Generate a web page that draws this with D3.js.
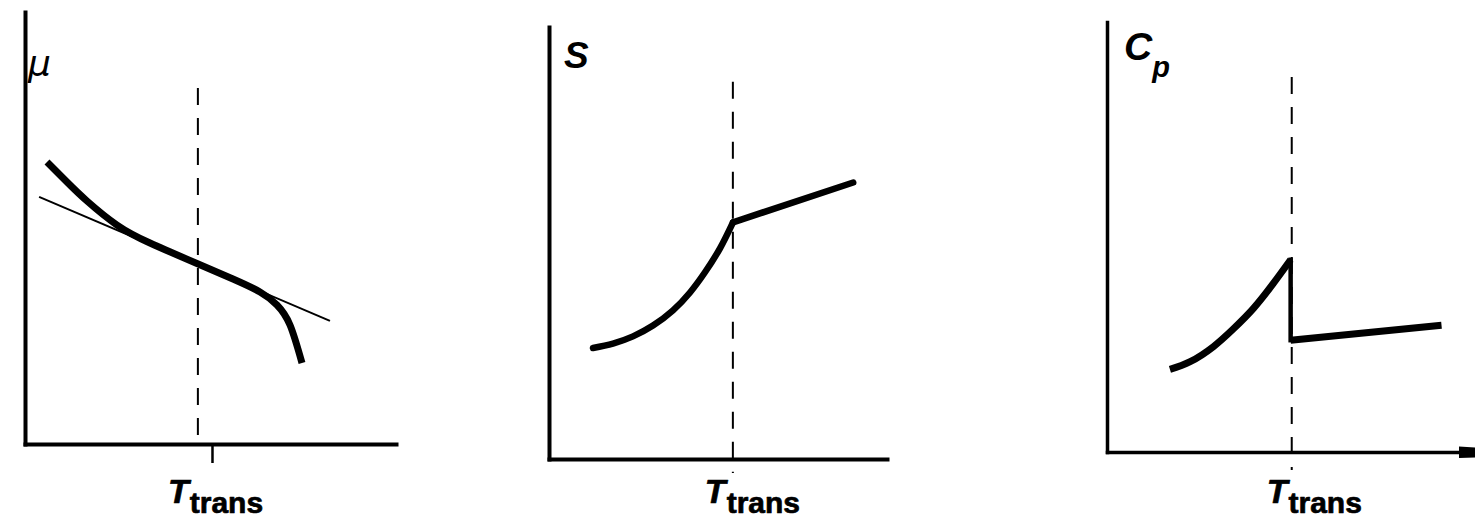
<!DOCTYPE html>
<html>
<head>
<meta charset="utf-8">
<script src="https://cdn.jsdelivr.net/npm/d3@7"></script>
<style>
  html, body { margin: 0; padding: 0; background: #fff; }
  svg { display: block; }
  text { font-family: "Liberation Sans", Arial, Helvetica, sans-serif; fill: #000; }
</style>
</head>
<body>
<svg id="chart" width="1475" height="522"></svg>
<script>
// ---- Data (arbitrary units, 0–100 on both axes of every panel) ----

// Chemical potential μ(T): thick curve and thin tangent drawn at the transition
const muCurve = [[5.93, 65.28], [11.32, 60.65], [16.71, 56.25], [24.80, 50.69], [33.69, 46.53],
                 [46.36, 41.78], [56.06, 38.19], [63.34, 35.19], [67.92, 32.18], [71.43, 27.55], [74.66, 18.75]];
const muTangent = [[3.8, 57.2], [82.2, 28.5]];
const muTrans = 46.6;      // dashed marker
const muTick = 50.4;       // axis tick carrying the label
const muDashTop = 82.4;

// Entropy S(T): smooth rise, kink at the transition, then a straight branch
const sBelow = [[13.02, 25.69], [18.93, 26.71], [24.85, 28.38], [30.77, 30.88], [36.69, 34.40],
                [41.72, 38.54], [46.15, 43.22], [50.59, 48.77], [54.44, 54.79]];
const sAbove = [[54.44, 54.79], [90.0, 64.0]];
const sTrans = 54.4;
const sDashTop = 87.3;

// Heat capacity Cp(T): rising branch, discontinuous drop, flat branch
const cpBelow = [[17.1, 19.2], [22.6, 21.0], [28.9, 24.5], [34.3, 28.6], [39.8, 33.4],
                 [45.2, 39.2], [49.9, 44.7]];
const cpJump = [[49.9, 44.7], [49.9, 26.0]];
const cpAbove = [[49.9, 26.0], [90.9, 29.5]];
const cpTrans = 50.2;
const cpDashTop = 87.2;

const transLabel = { main: "T", sub: "trans" };

// ---- Layout ----
const svg = d3.select("#chart");

const panels = [
  { left: 25,   right: 396,  bottom: 444, top: 12, axisW: 4,   tick: muTick, tickLen: 19,
    trans: muTrans, dashTop: muDashTop, dashBelow: 0, labelDx: -44, arrow: false,
    yLabel: { x: 28, y: 76, font: "DejaVu Sans", parts: [["μ", 36, "italic", "normal", 0]] } },
  { left: 549,  right: 887,  bottom: 459, top: 27, axisW: 4,   tick: null, tickLen: 0,
    trans: sTrans, dashTop: sDashTop, dashBelow: 14, labelDx: -28, arrow: false,
    yLabel: { x: 564, y: 68, font: null, parts: [["S", 37, "italic", "bold", 0]] } },
  { left: 1107, right: 1475, bottom: 452, top: 22, axisW: 3.5, tick: null, tickLen: 0,
    trans: cpTrans, dashTop: cpDashTop, dashBelow: 18, labelDx: -25, arrow: true,
    yLabel: { x: 1124, y: 60, font: null, parts: [["C", 39, "italic", "bold", 0], ["p", 29, "italic", "bold", 17]] } }
];

panels.forEach(p => {
  p.x = d3.scaleLinear().domain([0, 100]).range([p.left, p.right]);
  p.y = d3.scaleLinear().domain([0, 100]).range([p.bottom, p.top]);
  p.g = svg.append("g");
});

const lineSmooth = p => d3.line().x(d => p.x(d[0])).y(d => p.y(d[1])).curve(d3.curveNatural);
const lineStraight = p => d3.line().x(d => p.x(d[0])).y(d => p.y(d[1]));

// ---- Axes, dashed transition marker and labels ----
panels.forEach(p => {
  const xAxis = d3.axisBottom(p.x)
    .tickValues(p.tick === null ? [] : [p.tick])
    .tickSize(p.tickLen)
    .tickSizeOuter(0)
    .tickFormat(() => "");
  const yAxis = d3.axisLeft(p.y).tickValues([]).tickSizeOuter(0);

  const gx = p.g.append("g").attr("transform", `translate(0,${p.bottom})`).call(xAxis);
  const gy = p.g.append("g").attr("transform", `translate(${p.left},0)`).call(yAxis);
  [gx, gy].forEach(g => {
    g.select(".domain").attr("stroke", "#000").attr("stroke-width", p.axisW).attr("stroke-linecap", "square");
    g.selectAll(".tick line").attr("stroke", "#000").attr("stroke-width", 2.5);
  });

  if (p.arrow) {
    const xe = p.x.range()[1];
    p.g.append("path")
      .attr("d", `M${xe - 16},${p.bottom - 5.5}L${xe},${p.bottom - 4.5}L${xe},${p.bottom + 5.5}L${xe - 16},${p.bottom + 6}Z`)
      .attr("fill", "#000");
  }

  // dashed vertical line at the transition temperature
  p.g.append("line")
    .attr("x1", p.x(p.trans)).attr("x2", p.x(p.trans))
    .attr("y1", p.y(p.dashTop)).attr("y2", p.y(0) + p.dashBelow)
    .attr("stroke", "#000").attr("stroke-width", 2)
    .attr("stroke-dasharray", "17,13");

  // T_trans label under the axis
  const lx = p.x(p.tick === null ? p.trans : p.tick) + p.labelDx;
  const t = p.g.append("text").attr("x", lx).attr("y", 503)
    .attr("stroke", "#000").attr("stroke-width", 0.7).attr("stroke-linejoin", "round");
  t.append("tspan").attr("font-size", 34).attr("font-style", "italic").attr("font-weight", "bold").text(transLabel.main);
  t.append("tspan").attr("font-size", 30).attr("font-weight", "bold").attr("dy", 10).attr("dx", 1).text(transLabel.sub);

  // quantity label at the top of the y axis
  const yl = p.g.append("text").attr("x", p.yLabel.x).attr("y", p.yLabel.y);
  if (p.yLabel.font) yl.style("font-family", `"${p.yLabel.font}", sans-serif`);
  p.yLabel.parts.forEach(([s, size, style, weight, dy]) => {
    yl.append("tspan").attr("font-size", size).attr("font-style", style)
      .attr("font-weight", weight).attr("dy", dy).text(s);
  });
});

// ---- Curves ----
const [pMu, pS, pCp] = panels;

pMu.g.append("path").datum(muTangent).attr("d", lineStraight(pMu))
  .attr("fill", "none").attr("stroke", "#000").attr("stroke-width", 2);
pMu.g.append("path").datum(muCurve).attr("d", lineSmooth(pMu))
  .attr("fill", "none").attr("stroke", "#000").attr("stroke-width", 7).attr("stroke-linecap", "butt");

pS.g.append("path").datum(sBelow).attr("d", lineSmooth(pS))
  .attr("fill", "none").attr("stroke", "#000").attr("stroke-width", 6.5)
  .attr("stroke-linecap", "round").attr("stroke-linejoin", "round");
pS.g.append("path").datum(sAbove).attr("d", lineStraight(pS))
  .attr("fill", "none").attr("stroke", "#000").attr("stroke-width", 6.5)
  .attr("stroke-linecap", "round");

pCp.g.append("path").datum(cpBelow).attr("d", lineSmooth(pCp))
  .attr("fill", "none").attr("stroke", "#000").attr("stroke-width", 7).attr("stroke-linecap", "butt");
pCp.g.append("path").datum(cpJump).attr("d", lineStraight(pCp))
  .attr("fill", "none").attr("stroke", "#000").attr("stroke-width", 4.5).attr("stroke-linecap", "square");
pCp.g.append("path").datum(cpAbove).attr("d", lineStraight(pCp))
  .attr("fill", "none").attr("stroke", "#000").attr("stroke-width", 7).attr("stroke-linecap", "butt");
</script>
</body>
</html>
